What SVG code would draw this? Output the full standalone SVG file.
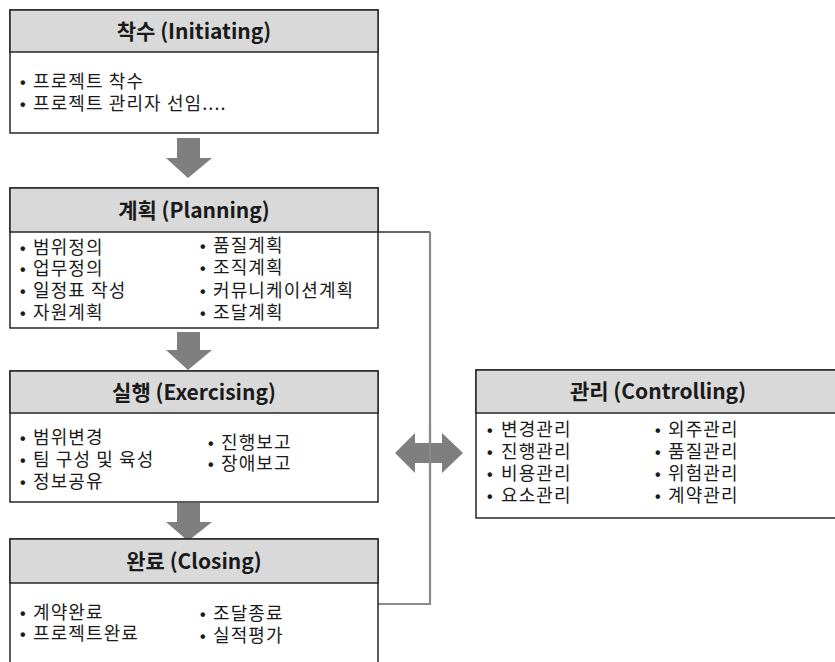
<svg xmlns="http://www.w3.org/2000/svg" width="835" height="662" viewBox="0 0 835 662">
  <style>
    .box { fill: #ffffff; stroke: #262626; stroke-width: 1.5; }
    .head { fill: #d9d9d9; stroke: #262626; stroke-width: 1.5; }
    .title { font-family: "Noto Sans CJK KR", "Liberation Sans", sans-serif; font-size: 21px; font-weight: bold; fill: #1a1a1a; text-anchor: middle; }
    .item { font-family: "Noto Sans CJK KR", "Liberation Sans", sans-serif; font-size: 18px; letter-spacing: 1.1px; fill: #1a1a1a; }
    .dot { font-family: "Liberation Sans", sans-serif; font-size: 16px; font-weight: bold; letter-spacing: 0; }
    .blk { fill: #7f7f7f; }
  </style>

  <!-- connectors -->
  <g id="connectors">
    <path d="M378 232 H430" stroke="#333333" stroke-width="1.5" fill="none"/>
    <path d="M430 232 V604 H378" stroke="#8a8a8a" stroke-width="2.2" fill="none"/>
    <polygon class="blk" points="177,138 200,138 200,158 212,158 188,178 166,158 177,158"/>
    <polygon class="blk" points="177,332 200,332 200,350 212,350 188,370 166,350 177,350"/>
    <polygon class="blk" points="177,503 200,503 200,522 212,522 188,541 166,522 177,522"/>
    <polygon class="blk" points="395,453 415,433 415,443 442,443 442,433 463,453 442,473 442,463 415,463 415,473"/>
    <path d="M430 425 V480" stroke="#8a8a8a" stroke-width="2.2"/>
  </g>

  <!-- Initiating -->
  <g id="initiating">
    <rect class="box" x="10" y="10" width="368" height="123"/>
    <rect class="head" x="10" y="10" width="368" height="42"/>
    <text class="title" x="194" y="39">착수 (Initiating)</text>
    <text class="item" y="88"><tspan class="dot" x="20">•</tspan><tspan x="33">프로젝트 착수</tspan></text>
    <text class="item" y="110"><tspan class="dot" x="20">•</tspan><tspan x="33">프로젝트 관리자 선임....</tspan></text>
  </g>

  <!-- Planning -->
  <g id="planning">
    <rect class="box" x="10" y="188" width="368" height="140"/>
    <rect class="head" x="10" y="188" width="368" height="44"/>
    <text class="title" x="194" y="218">계획 (Planning)</text>
    <text class="item" y="254"><tspan class="dot" x="20">•</tspan><tspan x="33">범위정의</tspan></text>
    <text class="item" y="275"><tspan class="dot" x="20">•</tspan><tspan x="33">업무정의</tspan></text>
    <text class="item" y="297"><tspan class="dot" x="20">•</tspan><tspan x="33">일정표 작성</tspan></text>
    <text class="item" y="319"><tspan class="dot" x="20">•</tspan><tspan x="33">자원계획</tspan></text>
    <text class="item" y="252"><tspan class="dot" x="200">•</tspan><tspan x="213">품질계획</tspan></text>
    <text class="item" y="274"><tspan class="dot" x="200">•</tspan><tspan x="213">조직계획</tspan></text>
    <text class="item" y="297"><tspan class="dot" x="200">•</tspan><tspan x="213">커뮤니케이션계획</tspan></text>
    <text class="item" y="319"><tspan class="dot" x="200">•</tspan><tspan x="213">조달계획</tspan></text>
  </g>

  <!-- Exercising -->
  <g id="exercising">
    <rect class="box" x="10" y="371" width="368" height="131"/>
    <rect class="head" x="10" y="371" width="368" height="42"/>
    <text class="title" x="194" y="400">실행 (Exercising)</text>
    <text class="item" y="444"><tspan class="dot" x="20">•</tspan><tspan x="33">범위변경</tspan></text>
    <text class="item" y="466"><tspan class="dot" x="20">•</tspan><tspan x="33">팀 구성 및 육성</tspan></text>
    <text class="item" y="488"><tspan class="dot" x="20">•</tspan><tspan x="33">정보공유</tspan></text>
    <text class="item" y="449"><tspan class="dot" x="208">•</tspan><tspan x="221">진행보고</tspan></text>
    <text class="item" y="470"><tspan class="dot" x="208">•</tspan><tspan x="221">장애보고</tspan></text>
  </g>

  <!-- Closing -->
  <g id="closing">
    <rect class="box" x="10" y="539" width="368" height="140"/>
    <rect class="head" x="10" y="539" width="368" height="44"/>
    <text class="title" x="194" y="569">완료 (Closing)</text>
    <text class="item" y="619"><tspan class="dot" x="20">•</tspan><tspan x="33">계약완료</tspan></text>
    <text class="item" y="640"><tspan class="dot" x="20">•</tspan><tspan x="33">프로젝트완료</tspan></text>
    <text class="item" y="620"><tspan class="dot" x="200">•</tspan><tspan x="213">조달종료</tspan></text>
    <text class="item" y="642"><tspan class="dot" x="200">•</tspan><tspan x="213">실적평가</tspan></text>
  </g>

  <!-- Controlling -->
  <g id="controlling">
    <rect class="box" x="476" y="370" width="370" height="148"/>
    <rect class="head" x="476" y="370" width="370" height="43"/>
    <text class="title" x="658" y="399">관리 (Controlling)</text>
    <text class="item" y="436"><tspan class="dot" x="487">•</tspan><tspan x="501">변경관리</tspan></text>
    <text class="item" y="458"><tspan class="dot" x="487">•</tspan><tspan x="501">진행관리</tspan></text>
    <text class="item" y="480"><tspan class="dot" x="487">•</tspan><tspan x="501">비용관리</tspan></text>
    <text class="item" y="502"><tspan class="dot" x="487">•</tspan><tspan x="501">요소관리</tspan></text>
    <text class="item" y="436"><tspan class="dot" x="655">•</tspan><tspan x="668">외주관리</tspan></text>
    <text class="item" y="458"><tspan class="dot" x="655">•</tspan><tspan x="668">품질관리</tspan></text>
    <text class="item" y="480"><tspan class="dot" x="655">•</tspan><tspan x="668">위험관리</tspan></text>
    <text class="item" y="502"><tspan class="dot" x="655">•</tspan><tspan x="668">계약관리</tspan></text>
  </g>
</svg>
